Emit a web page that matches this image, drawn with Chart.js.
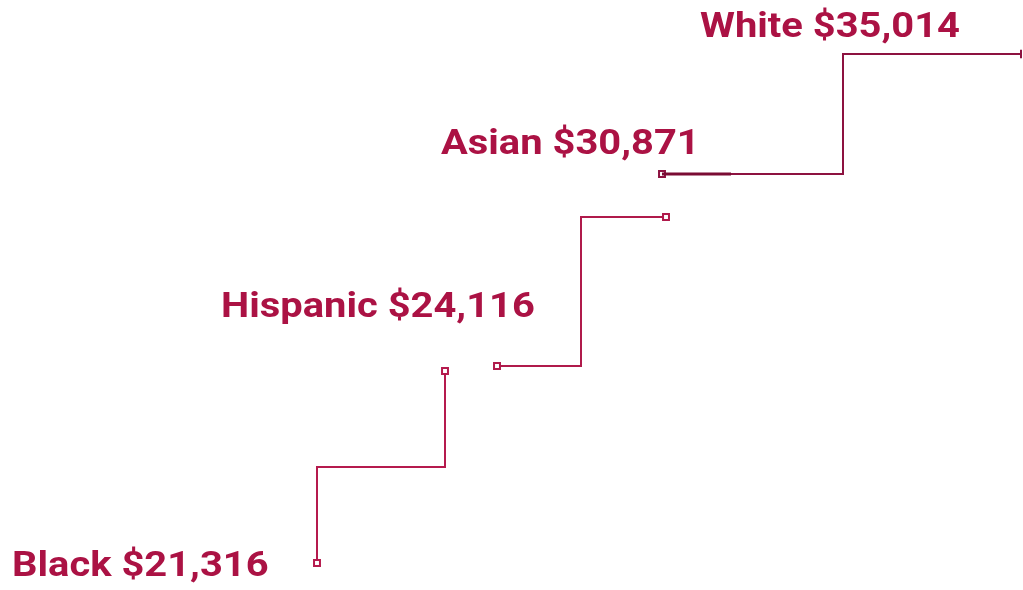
<!DOCTYPE html>
<html>
<head>
<meta charset="utf-8">
<title>Median income by race</title>
<script src="https://cdn.jsdelivr.net/npm/chart.js@4.4.1/dist/chart.umd.min.js"></script>
<style>
  html, body { margin: 0; padding: 0; background: #fff; }
  #wrap { position: relative; width: 1023px; height: 590px; }
</style>
</head>
<body>
<div id="wrap"><canvas id="chart"></canvas></div>
<script>
// values
const groups = ["Black", "Hispanic", "Asian", "White"];
const incomes = [21316, 24116, 30871, 35014];

// layout grid is 1023 x 590 units, y grows downwards
const labelLeft = [12, 221, 441, 700];
const labelBase = [576, 317, 154, 37];

// stair connectors between consecutive groups (x, y in layout units)
const stairX = [
  [317, 317, 445, 445],
  [497, 581, 581, 666],
  [662, 843, 843, 1021],
];
const stairY = [
  [563, 467, 467, 371],
  [366, 366, 217, 217],
  [174, 174, 54, 54],
];
const stairColors = ["#b51a4d", "#b01a4b", "#8d1240"];

const textColor = "#ab1244";
const textStretch = 1.14;

function toPoints(xs, ys) {
  return xs.map((x, i) => ({x, y: ys[i]}));
}

const datasets = stairX.map((xs, s) => {
  const last = s === stairX.length - 1;
  return {
    data: toPoints(xs, stairY[s]),
    borderColor: stairColors[s],
    borderWidth: 2,
    tension: 0,
    fill: false,
    pointBackgroundColor: "#fff",
    pointBorderColor: stairColors[s],
    pointBorderWidth: 2,
    pointRadius: ctx => (ctx.dataIndex === 0 || ctx.dataIndex === xs.length - 1) ? 4.2 : 0,
    pointStyle: ctx => (last && ctx.dataIndex === xs.length - 1) ? "line" : "rect",
    pointRotation: ctx => (last && ctx.dataIndex === xs.length - 1) ? 90 : 0,
  };
});

// heavier start of the Asian connector
datasets.unshift({
  data: toPoints([662, 731], [174, 174]),
  borderColor: "#7a0b33",
  borderWidth: 3,
  pointRadius: 0,
  fill: false,
});

const labelPlugin = {
  id: "groupLabels",
  afterDatasetsDraw(chart) {
    const {ctx, scales: {x, y}} = chart;
    groups.forEach((g, i) => {
      const text = g + " $" + incomes[i].toLocaleString("en-US");
      ctx.save();
      ctx.translate(x.getPixelForValue(labelLeft[i]), y.getPixelForValue(labelBase[i]));
      ctx.scale(textStretch, 1);
      ctx.font = "bold 35px Roboto";
      ctx.fillStyle = textColor;
      ctx.textAlign = "left";
      ctx.textBaseline = "alphabetic";
      ctx.fillText(text, 0, 0);
      ctx.restore();
    });
  },
};

new Chart(document.getElementById("chart"), {
  type: "line",
  data: {datasets},
  options: {
    responsive: true,
    maintainAspectRatio: false,
    animation: false,
    layout: {padding: 0, autoPadding: false},
    plugins: {legend: {display: false}, tooltip: {enabled: false}},
    scales: {
      x: {type: "linear", min: 0, max: 1023, display: false},
      y: {type: "linear", min: 0, max: 590, reverse: true, display: false},
    },
  },
  plugins: [labelPlugin],
});
</script>
</body>
</html>
